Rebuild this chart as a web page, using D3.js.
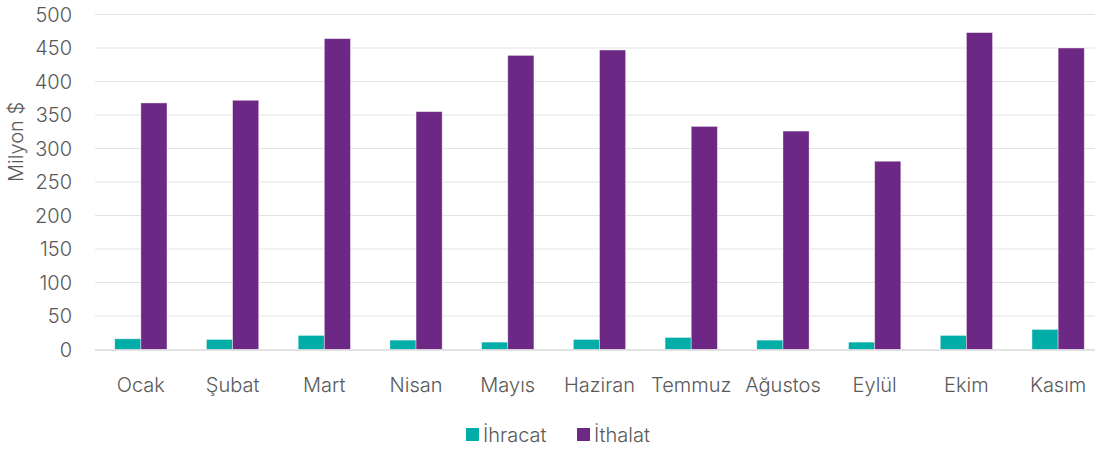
<!DOCTYPE html>
<html><head><meta charset="utf-8">
<script src="https://cdn.jsdelivr.net/npm/d3@7"></script>
<style>
body{margin:0;background:#fff;}
text{font-family:Inter,Roboto,"Liberation Sans",sans-serif;font-weight:300;fill:#595959;}
</style></head>
<body><svg id="c" width="1095" height="450"></svg>
<script>
const months = ["Ocak","Şubat","Mart","Nisan","Mayıs","Haziran","Temmuz","Ağustos","Eylül","Ekim","Kasım"];
const ihracat = [16,15,21,14,11,15,18,14,11,21,30];
const ithalat = [368,372,464,355,439,447,333,326,281,473,450];
const seriesNames = ["İhracat","İthalat"];
const colors = ["#00ADA7","#6C2884"];
const yTicks = [0,50,100,150,200,250,300,350,400,450,500];

const svg = d3.select("#c");
const x = d3.scaleBand().domain(months).range([95,1104]).paddingInner(0.43).paddingOuter(0.215);
const x1 = d3.scaleBand().domain(seriesNames).range([0,x.bandwidth()]);
const y = d3.scaleLinear().domain([0,500]).range([349.5,14.5]);

svg.append("g").selectAll("line").data(yTicks.filter(d=>d>0)).join("line")
  .attr("x1",95).attr("x2",1095).attr("y1",d=>y(d)).attr("y2",d=>y(d))
  .attr("stroke","#E3E3E3").attr("stroke-width",1.2);

svg.append("g").selectAll("text").data(yTicks).join("text")
  .attr("x",72).attr("y",d=>y(d)).attr("dy","0.36em").attr("text-anchor","end")
  .attr("font-size",20).text(d=>d);

svg.append("text").attr("transform","translate(23,142) rotate(-90)")
  .attr("text-anchor","middle").attr("font-size",20).text("Milyon $");

const data = months.map((m,i)=>({m, vals:[ihracat[i],ithalat[i]]}));
const g = svg.append("g").selectAll("g").data(data).join("g")
  .attr("transform",d=>`translate(${x(d.m)},0)`);
g.selectAll("rect").data(d=>d.vals.map((v,j)=>({k:seriesNames[j],v,j}))).join("rect")
  .attr("x",d=>x1(d.k)).attr("width",x1.bandwidth())
  .attr("y",d=>y(d.v)).attr("height",d=>y(0)-y(d.v))
  .attr("fill",d=>colors[d.j]).attr("stroke","rgba(255,255,255,0.5)").attr("stroke-width",0.8);

svg.append("line").attr("x1",95).attr("x2",1095).attr("y1",y(0)+0.5).attr("y2",y(0)+0.5)
  .attr("stroke","#D9D9D9").attr("stroke-width",1.5);

svg.append("g").selectAll("text").data(months).join("text")
  .attr("x",d=>x(d)+x.bandwidth()/2).attr("y",392).attr("text-anchor","middle")
  .attr("font-size",20).text(d=>d);

const leg = [{n:"İhracat",c:colors[0],x:466},{n:"İthalat",c:colors[1],x:577}];
const lg = svg.append("g").selectAll("g").data(leg).join("g").attr("transform",d=>`translate(${d.x},0)`);
lg.append("rect").attr("x",0).attr("y",428).attr("width",13).attr("height",13).attr("fill",d=>d.c);
lg.append("text").attr("x",17).attr("y",442).attr("font-size",20).text(d=>d.n);
</script></body></html>
